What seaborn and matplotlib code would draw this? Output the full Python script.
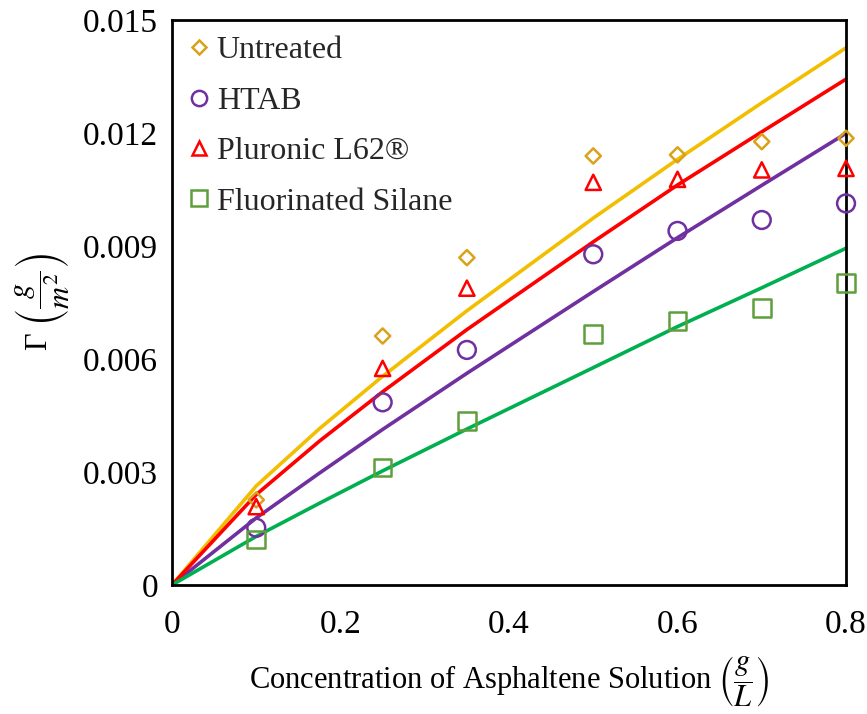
import matplotlib
matplotlib.use("Agg")
import matplotlib.pyplot as plt
from matplotlib.lines import Line2D
import seaborn as sns
import pandas as pd

# ---- data ----
conc = [0.1, 0.25, 0.35, 0.5, 0.6, 0.7, 0.8]
untreated = [0.00226, 0.00661, 0.00869, 0.01139, 0.01142, 0.01177, 0.01186]
htab = [0.00152, 0.00485, 0.00624, 0.00878, 0.00940, 0.00969, 0.01013]
pluronic = [0.00208, 0.00575, 0.00788, 0.01069, 0.01077, 0.01102, 0.01106]
silane = [0.00121, 0.00312, 0.00435, 0.00666, 0.00701, 0.00736, 0.00801]

# fitted curves
fit_conc = [0.0, 0.1, 0.175, 0.25, 0.35, 0.5, 0.6, 0.7, 0.8]
fit_untreated = [0.0, 0.00263, 0.00415, 0.00554, 0.00728, 0.00974, 0.01130, 0.01280, 0.01426]
fit_pluronic = [0.0, 0.00240, 0.00382, 0.00513, 0.00678, 0.00911, 0.01062, 0.01203, 0.01343]
fit_htab = [0.0, 0.00178, 0.00297, 0.00413, 0.00562, 0.00779, 0.00922, 0.01061, 0.01199]
fit_silane = [0.0, 0.00129, 0.00217, 0.00303, 0.00414, 0.00577, 0.00686, 0.00789, 0.00894]

labels = ["Untreated", "HTAB", "Pluronic L62®", "Fluorinated Silane"]
x_ticks = [0, 0.2, 0.4, 0.6, 0.8]
x_tick_labels = ["0", "0.2", "0.4", "0.6", "0.8"]
y_ticks = [0, 0.003, 0.006, 0.009, 0.012, 0.015]
y_tick_labels = ["0", "0.003", "0.006", "0.009", "0.012", "0.015"]

sns.set_style("white")
plt.rcParams["font.family"] = ["Liberation Serif", "DejaVu Serif"]
plt.rcParams["mathtext.fontset"] = "stix"

fig = plt.figure(figsize=(8.67, 7.14), dpi=100)
ax = fig.add_axes([0.1984, 0.1807, 0.7774, 0.7913])

pts = [untreated, htab, pluronic, silane]
fits = [fit_untreated, fit_htab, fit_pluronic, fit_silane]
marker_colors = ["#D9A21B", "#7030A0", "#FF0000", "#5F9E3C"]
line_colors = ["#F2BE00", "#7030A0", "#FF0000", "#00B050"]
markers = ["D", "o", "^", "s"]
msizes = [60, 165, 120, 160]

for fy, lc in zip(fits, line_colors):
    df = pd.DataFrame({"x": fit_conc, "y": fy})
    sns.lineplot(data=df, x="x", y="y", ax=ax, color=lc, linewidth=2.6,
                 sort=False, errorbar=None, zorder=2)

for py, mc, mk, ms in zip(pts, marker_colors, markers, msizes):
    df = pd.DataFrame({"x": conc, "y": py})
    sns.scatterplot(data=df, x="x", y="y", ax=ax, marker=mk, s=ms,
                    facecolor="none", edgecolor=mc, linewidth=1.8,
                    zorder=3, clip_on=False)

ax.set_xlim(0, 0.8)
ax.set_ylim(0, 0.015)
ax.set_xticks(x_ticks)
ax.set_xticklabels(x_tick_labels)
ax.set_yticks(y_ticks)
ax.set_yticklabels(y_tick_labels)
ax.tick_params(axis="both", which="major", direction="out", length=7, width=1.6,
               labelsize=24, color="black", labelcolor="black")
ax.tick_params(axis="y", pad=3)
ax.tick_params(axis="x", pad=11)
for sp in ax.spines.values():
    sp.set_visible(True)
    sp.set_color("black")
    sp.set_linewidth(2.0)

ax.set_xlabel(r"Concentration of Asphaltene Solution $\left(\dfrac{g}{L}\right)$",
              fontsize=22, labelpad=10, color="black")
ax.set_ylabel(r"Γ $\left(\dfrac{g}{m^2}\right)$", fontsize=22, labelpad=8, color="black")

handles = [Line2D([], [], linestyle="none", marker=mk, markersize=ms, markerfacecolor="none",
                  markeredgecolor=mc, markeredgewidth=1.8)
           for mk, mc, ms in zip(markers, marker_colors, [7.5, 11, 10, 11])]
ax.legend(handles, labels, loc="upper left", frameon=False, fontsize=23,
          handlelength=0.7, handletextpad=0.2, labelspacing=0.66,
          borderaxespad=0.25, borderpad=0.25)

fig.savefig("out.png", dpi=100)
